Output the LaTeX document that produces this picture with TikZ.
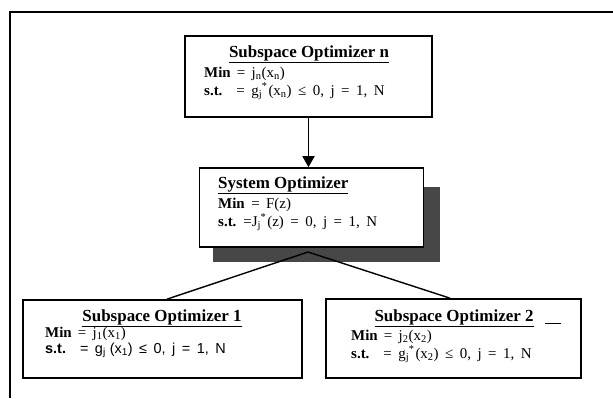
\documentclass[tikz,border=0pt]{standalone}
\usepackage{fontspec}
\setmainfont{Liberation Serif}
\newfontfamily\arialfont{Liberation Sans}
\usetikzlibrary{arrows.meta}
\newcommand{\gjs}{g\textsubscript{j}\kern-0.5bp\textsuperscript{*}\hspace{1bp}}
\newcommand{\Jjs}{J\textsubscript{j}\kern-0.5bp\textsuperscript{*}\hspace{1bp}}
\newcommand{\sbx}[1]{\textsubscript{#1}}
\begin{document}
\begin{tikzpicture}[x=1bp,y=-1bp,
  box/.style={draw, line width=1.7bp, fill=white, inner sep=0pt},
  ttl/.style={anchor=base, inner sep=0pt, font=\fontsize{17}{20}\selectfont\bfseries},
  ttlw/.style={anchor=base west, inner sep=0pt, font=\fontsize{17}{20}\selectfont\bfseries},
  txt/.style={anchor=base west, inner sep=0pt, font=\fontsize{15}{17}\selectfont,
    execute at begin node={\spaceskip=6.5bp plus 1bp\relax}},
  conn/.style={line width=1.4bp},
]
\useasboundingbox (0,0) rectangle (613,398);
% outer frame (only top and left visible)
\draw[line width=1.3bp] (10,398) -- (10,12) -- (613,12);

% top box
\node[box, minimum width=247bp, minimum height=81bp] (top) at (308.5,76.5) {};
\node[ttl] (topT) at (309,57) {\underline{Subspace Optimizer n}};
\node[txt] (topM) at (204,77) {\textbf{Min}\hspace{6bp}= j\sbx{n}(x\sbx{n})};
\node[txt] (topS) at (204,95) {\textbf{s.t.}\hspace{14bp}= \gjs(x\sbx{n}) ≤ 0, j = 1, N};

% system box with shadow
\fill[black!72] (213,187) rectangle (440,262);
\node[box, minimum width=224bp, minimum height=79bp] (sys) at (311.5,207.5) {};
\node[ttlw] (sysT) at (218,188) {\underline{System Optimizer}};
\node[txt] (sysM) at (218,208) {\textbf{Min} = F(z)};
\node[txt] (sysS) at (218,226) {\textbf{s.t.}\hspace{7bp}=\Jjs(z) = 0, j = 1, N};

% subspace boxes
\node[box, minimum width=279bp, minimum height=78bp] (b1) at (162.5,339) {};
\node[ttl] (b1T) at (162,321) {\underline{Subspace Optimizer 1}};
\node[txt] (b1M) at (45,337) {\textbf{Min}\hspace{6bp}= j\sbx{1}(x\sbx{1})};
\node[txt] (b1S) at (45,353) {\arialfont\fontsize{14.5}{17}\selectfont\spaceskip=6.5bp\relax\textbf{s.t.}\hspace{14bp}= g\sbx{j}\hspace{4bp}(x\sbx{1}) ≤ 0, j = 1, N};

\node[box, minimum width=255bp, minimum height=79bp] (b2) at (453.5,338.5) {};
\node[ttl] (b2T) at (454,321) {\underline{Subspace Optimizer 2}};
\node[txt] (b2M) at (351,340) {\textbf{Min}\hspace{6bp}= j\sbx{2}(x\sbx{2})};
\node[txt] (b2S) at (351,358) {\textbf{s.t.}\hspace{14bp}= \gjs(x\sbx{2}) ≤ 0, j = 1, N};
\coordinate (d1) at (545,323);
\coordinate (d2) at (561,323);
\draw[line width=0.8bp] (d1) -- (d2);

% connectors
\draw[line width=1.8bp, -{Triangle[width=12bp,length=11bp]}] (top.south) -- (top.south |- sys.north);
\coordinate (hub) at (308,252);
\draw[conn] (hub) -- (b1.north -| 167,0);
\draw[conn] (hub) -- (b2.north -| 450,0);
\end{tikzpicture}
\end{document}
